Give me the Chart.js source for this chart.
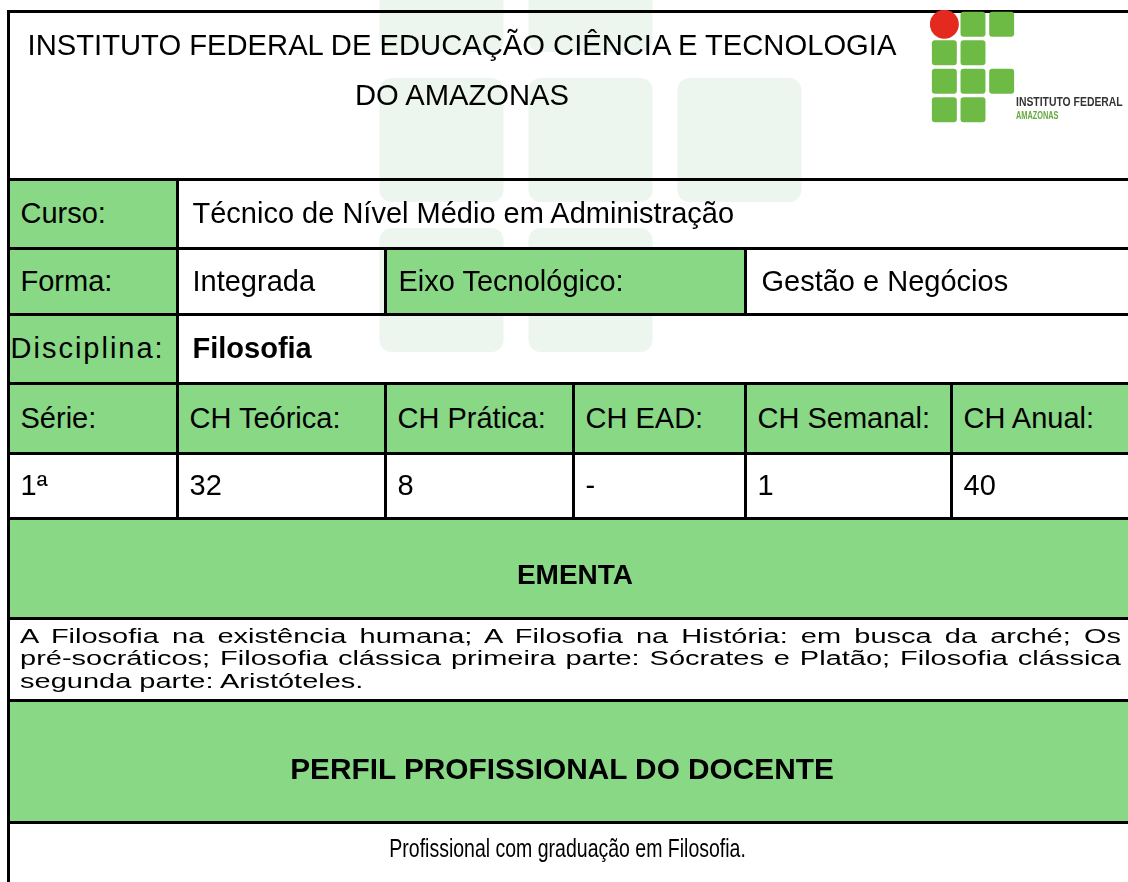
<!DOCTYPE html>
<html>
<head>
  <title>Filosofia - IFAM</title>
  <meta charset="utf-8">
  <script src="https://cdn.jsdelivr.net/npm/chart.js"></script>
  <style>
    body {
      margin: 0;
      width: 1128px;
      height: 882px;
      overflow: hidden;
      position: relative;
      background: #fff;
      color: #000;
      font-family: "Liberation Sans", Arial, sans-serif;
    }
    canvas { position: absolute; }
    #mark { left: 367px; top: -235px; z-index: 0; }
    #logo { left: 930px; top: 10px; z-index: 3; }
    .cell {
      position: absolute;
      box-sizing: border-box;
      border: 3px solid #000;
      display: flex;
      align-items: center;
      padding-left: 11px;
      font-size: 29px;
      white-space: nowrap;
      z-index: 1;
    }
    .green { background: #88d886; }
    .txt { position: absolute; white-space: nowrap; z-index: 2; }
    #header { left: 0; width: 924px; top: 20px; font-size: 29.2px; line-height: 50px; text-align: center; }
    #logoName { left: 1016px; top: 95px; font-weight: bold; font-size: 13px; line-height: 13px; color: #333; transform: scaleX(0.8); transform-origin: left top; }
    #logoPlace { left: 1016px; top: 110px; font-weight: bold; font-size: 10.5px; line-height: 11px; color: #64a83c; transform: scaleX(0.7); transform-origin: left top; }
    #ementaTitle, #perfilTitle { text-align: center; font-weight: bold; line-height: 32px; }
    #ementaTitle { left: 0; width: 1150px; top: 559px; font-size: 28px; }
    #perfilTitle { left: 0; width: 1124px; top: 753px; font-size: 29.8px; }
    #ementa { left: 20px; top: 625px; width: 1101px; font-size: 29px; line-height: 33px; transform: scaleY(0.68); transform-origin: left top; }
    #ementa .full { text-align: justify; text-align-last: justify; white-space: normal; }
    #perfil { left: 0; width: 1136px; top: 834px; text-align: center; font-size: 25px; line-height: 28px; }
    #perfil span { display: inline-block; transform: scaleX(0.78); }
  </style>
</head>
<body>

<canvas id="mark" width="447" height="600"></canvas>
<canvas id="logo" width="86" height="114"></canvas>

<script>
  // Texts of the form
  const headerLines = ['INSTITUTO FEDERAL DE EDUCAÇÃO CIÊNCIA E TECNOLOGIA', 'DO AMAZONAS'];
  const logoName = 'INSTITUTO FEDERAL';
  const logoPlace = 'AMAZONAS';
  const cursoRow = ['Curso:', 'Técnico de Nível Médio em Administração'];
  const formaRow = ['Forma:', 'Integrada', 'Eixo Tecnológico:', 'Gestão e Negócios'];
  const disciplinaRow = ['Disciplina:', 'Filosofia'];
  const cargaLabels = ['Série:', 'CH Teórica:', 'CH Prática:', 'CH EAD:', 'CH Semanal:', 'CH Anual:'];
  const cargaValues = ['1ª', '32', '8', '-', '1', '40'];
  const ementaTitle = 'EMENTA';
  const ementaLines = [
    'A Filosofia na existência humana; A Filosofia na História: em busca da arché; Os',
    'pré-socráticos; Filosofia clássica primeira parte: Sócrates e Platão; Filosofia clássica',
    'segunda parte: Aristóteles.'
  ];
  const perfilTitle = 'PERFIL PROFISSIONAL DO DOCENTE';
  const perfilText = 'Profissional com graduação em Filosofia.';

  // IF logo: 3 columns x 4 rows, first cell of the first row is the red circle
  const logoColumns = ['c1', 'c2', 'c3'];
  const logoSquares = [
    [0, 1, 1],
    [1, 1, 0],
    [1, 1, 1],
    [1, 1, 0]
  ];
  const logoCircle = [{ x: 'c1', y: 0.5 }];

  // grid lines of the table
  const gx = [8, 177, 385, 573, 745, 951, 1140];
  const gy = [11, 179, 248, 314, 383, 453, 518, 618, 700, 822, 900];

  function cell(c0, c1, r, text, green, extra) {
    const d = document.createElement('div');
    d.className = 'cell' + (green ? ' green' : '');
    d.style.left = (gx[c0] - 1.5) + 'px';
    d.style.top = (gy[r] - 1.5) + 'px';
    d.style.width = (gx[c1] - gx[c0] + 3) + 'px';
    d.style.height = (gy[r + 1] - gy[r] + 3) + 'px';
    if (extra) Object.assign(d.style, extra);
    d.textContent = text || '';
    document.body.appendChild(d);
    return d;
  }

  function text(id, content) {
    const d = document.createElement('div');
    d.id = id;
    d.className = 'txt';
    d.innerHTML = content;
    document.body.appendChild(d);
  }

  cell(0, 6, 0, '', false);
  cell(0, 1, 1, cursoRow[0], true);
  cell(1, 6, 1, cursoRow[1], false, { paddingLeft: '14px' });
  cell(0, 1, 2, formaRow[0], true);
  cell(1, 2, 2, formaRow[1], false, { paddingLeft: '14px' });
  cell(2, 4, 2, formaRow[2], true, { paddingLeft: '12px' });
  cell(4, 6, 2, formaRow[3], false, { paddingLeft: '15px' });
  cell(0, 1, 3, disciplinaRow[0], true, { paddingLeft: '1px', letterSpacing: '2px' });
  cell(1, 6, 3, disciplinaRow[1], false, { paddingLeft: '14px', fontWeight: 'bold' });
  cargaLabels.forEach((t, i) => cell(i, i + 1, 4, t, true));
  cargaValues.forEach((t, i) => cell(i, i + 1, 5, t, false));
  cell(0, 6, 6, '', true);
  cell(0, 6, 7, '', false);
  cell(0, 6, 8, '', true);
  cell(0, 6, 9, '', false);

  text('header', headerLines.join('<br>'));
  text('logoName', logoName);
  text('logoPlace', logoPlace);
  text('ementaTitle', ementaTitle);
  text('ementa', ementaLines.map((l, i) =>
    '<div class="' + (i < ementaLines.length - 1 ? 'full' : '') + '">' + l + '</div>').join(''));
  text('perfilTitle', perfilTitle);
  text('perfil', '<span>' + perfilText + '</span>');

  function drawLogo(id, opt) {
    const datasets = logoSquares.map((row, r) => ({
      type: 'bar',
      data: row.map(v => v ? [r + opt.inset, r + 1 - opt.inset] : null),
      backgroundColor: opt.green,
      borderRadius: opt.radius,
      borderSkipped: false,
      grouped: false,
      barPercentage: opt.bar,
      categoryPercentage: 1
    }));
    datasets.push({
      type: 'scatter',
      data: logoCircle,
      backgroundColor: opt.red,
      borderWidth: 0,
      clip: false,
      pointRadius: opt.circle,
      pointHoverRadius: opt.circle
    });
    new Chart(document.getElementById(id), {
      type: 'bar',
      data: { labels: logoColumns, datasets: datasets },
      options: {
        responsive: false,
        animation: false,
        events: [],
        layout: { padding: 0, autoPadding: false },
        plugins: { legend: { display: false }, tooltip: { enabled: false } },
        scales: {
          x: { type: 'category', display: false, offset: true },
          y: { min: 0, max: 4, reverse: true, display: false }
        }
      }
    });
  }

  // faint watermark behind the table
  drawLogo('mark', { green: '#edf5ef', red: '#fbeeee', radius: 12, inset: 0.087, bar: 0.832, circle: 74 });
  // logo in the header
  drawLogo('logo', { green: '#6dbb45', red: '#e4291e', radius: 3, inset: 0.06, bar: 0.87, circle: 14.5 });
</script>
</body>
</html>
